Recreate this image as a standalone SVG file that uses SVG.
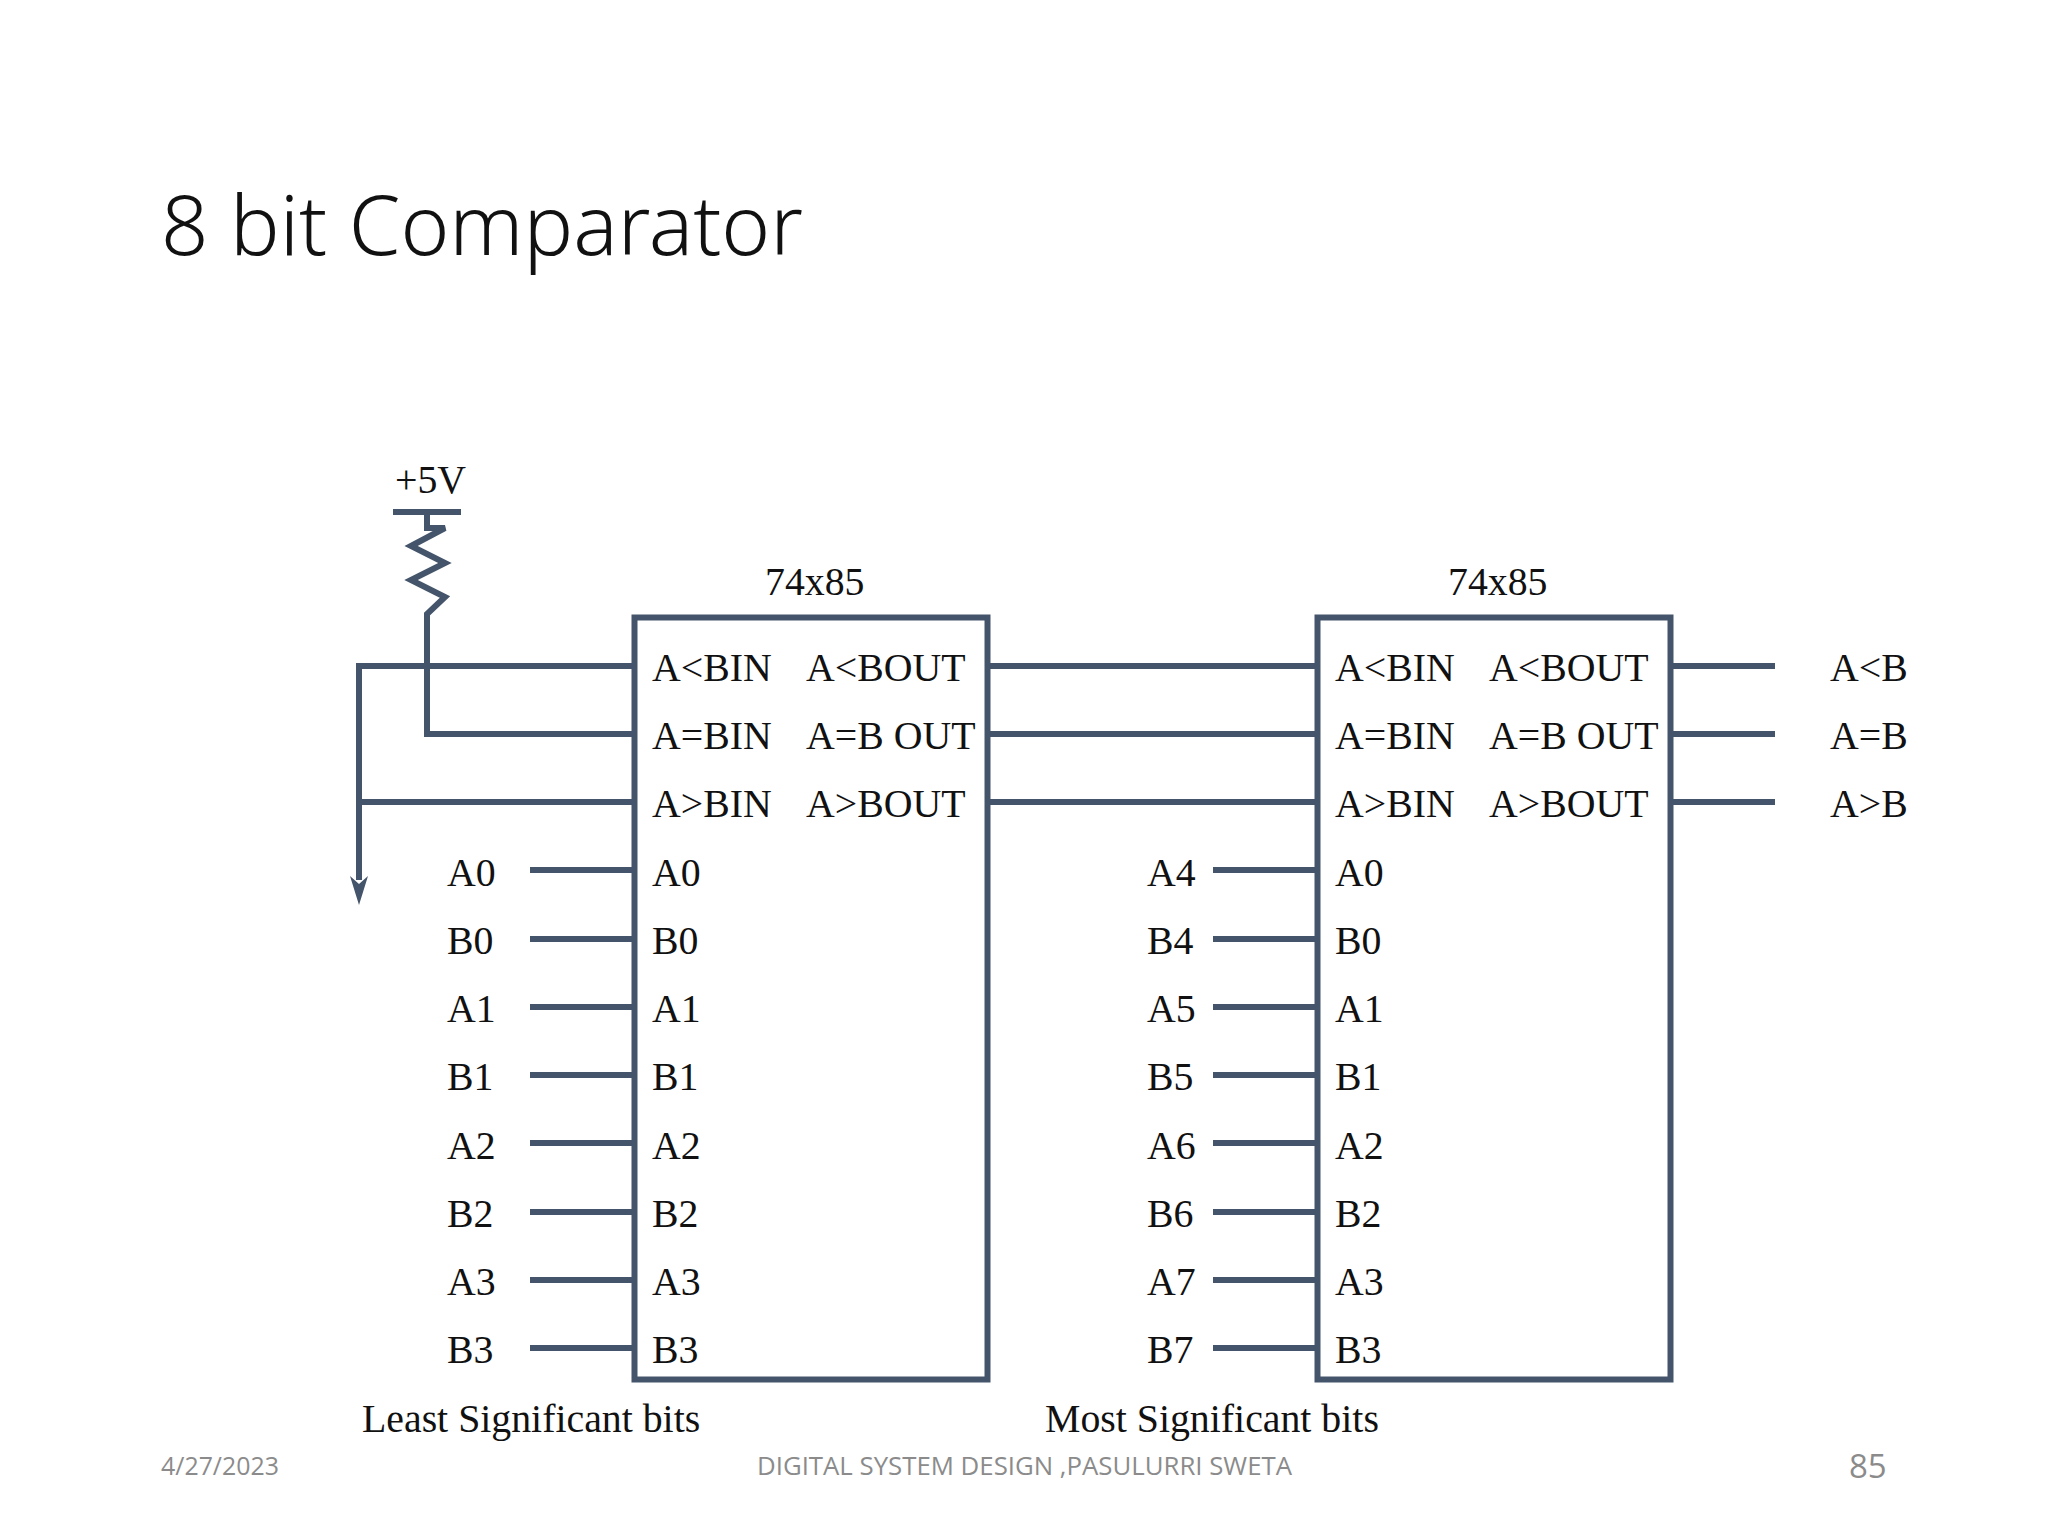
<svg xmlns="http://www.w3.org/2000/svg" width="2048" height="1536" viewBox="0 0 2048 1536">
<style>
.t{font-family:"Liberation Serif","Times New Roman",serif;font-size:39.8px;fill:#111;transform:translateY(1px)}
.f{font-family:"Open Sans","Liberation Sans",sans-serif;font-size:26px;fill:#8b8b8b}
.w{fill:none;stroke:#44546a;stroke-width:6}
.b{fill:#fff;stroke:#44546a;stroke-width:6}
</style>
<rect width="2048" height="1536" fill="#fff"/>
<text id="title" x="161" y="255" font-family="Noto Sans, Open Sans, sans-serif" font-weight="300" font-size="82" fill="#111" textLength="642" lengthAdjust="spacingAndGlyphs">8 bit Comparator</text>
<g id="connectors" class="w">
<path d="M393 512H461M427 512V528H445L411 546 445 563 411 580 445 597 427 614V734H634"/>
<path d="M359 666H634M359 802H634M359 663V880"/>
<path d="M530 870H634M530 939H634M530 1007H634M530 1075H634M530 1143H634M530 1212H634M530 1280H634M530 1348H634"/>
<path d="M988 666H1317M988 734H1317M988 802H1317"/>
<path d="M1213 870H1317M1213 939H1317M1213 1007H1317M1213 1075H1317M1213 1143H1317M1213 1212H1317M1213 1280H1317M1213 1348H1317"/>
<path d="M1670 666H1775M1670 734H1775M1670 802H1775"/>
</g>
<path id="arrow" d="M350 876L359 884 368 876 359 905Z" fill="#44546a"/>
<g id="power"><text class="t" x="395" y="492">+5V</text></g>
<g id="chip1">
<rect class="b" x="634.500" y="617.500" width="353" height="762"/>
<text class="t" x="765" y="594">74x85</text>
<text class="t" x="652" y="680">A&lt;BIN</text><text class="t" x="652" y="748">A=BIN</text><text class="t" x="652" y="816">A&gt;BIN</text>
<text class="t" x="806" y="680">A&lt;BOUT</text><text class="t" x="806" y="748">A=B OUT</text><text class="t" x="806" y="816">A&gt;BOUT</text>
<text class="t" x="652" y="885">A0</text><text class="t" x="652" y="953">B0</text><text class="t" x="652" y="1021">A1</text><text class="t" x="652" y="1089">B1</text><text class="t" x="652" y="1158">A2</text><text class="t" x="652" y="1226">B2</text><text class="t" x="652" y="1294">A3</text><text class="t" x="652" y="1362">B3</text>
</g>
<g id="chip2">
<rect class="b" x="1317.500" y="617.500" width="353" height="762"/>
<text class="t" x="1448" y="594">74x85</text>
<text class="t" x="1335" y="680">A&lt;BIN</text><text class="t" x="1335" y="748">A=BIN</text><text class="t" x="1335" y="816">A&gt;BIN</text>
<text class="t" x="1489" y="680">A&lt;BOUT</text><text class="t" x="1489" y="748">A=B OUT</text><text class="t" x="1489" y="816">A&gt;BOUT</text>
<text class="t" x="1335" y="885">A0</text><text class="t" x="1335" y="953">B0</text><text class="t" x="1335" y="1021">A1</text><text class="t" x="1335" y="1089">B1</text><text class="t" x="1335" y="1158">A2</text><text class="t" x="1335" y="1226">B2</text><text class="t" x="1335" y="1294">A3</text><text class="t" x="1335" y="1362">B3</text>
</g>
<g id="inputs-lsb">
<text class="t" x="447" y="885">A0</text><text class="t" x="447" y="953">B0</text><text class="t" x="447" y="1021">A1</text><text class="t" x="447" y="1089">B1</text><text class="t" x="447" y="1158">A2</text><text class="t" x="447" y="1226">B2</text><text class="t" x="447" y="1294">A3</text><text class="t" x="447" y="1362">B3</text>
</g>
<g id="inputs-msb">
<text class="t" x="1147" y="885">A4</text><text class="t" x="1147" y="953">B4</text><text class="t" x="1147" y="1021">A5</text><text class="t" x="1147" y="1089">B5</text><text class="t" x="1147" y="1158">A6</text><text class="t" x="1147" y="1226">B6</text><text class="t" x="1147" y="1294">A7</text><text class="t" x="1147" y="1362">B7</text>
</g>
<g id="outputs">
<text class="t" x="1830" y="680">A&lt;B</text><text class="t" x="1830" y="748">A=B</text><text class="t" x="1830" y="816">A&gt;B</text>
</g>
<text class="t" x="362" y="1431">Least Significant bits</text>
<text class="t" x="1045" y="1431">Most Significant bits</text>
<text class="f" x="161" y="1475" textLength="118" lengthAdjust="spacingAndGlyphs">4/27/2023</text>
<text class="f" x="757" y="1475" textLength="535" lengthAdjust="spacingAndGlyphs">DIGITAL SYSTEM DESIGN ,PASULURRI SWETA</text>
<text class="f" x="1849" y="1478" style="font-size:33px">85</text>
</svg>
